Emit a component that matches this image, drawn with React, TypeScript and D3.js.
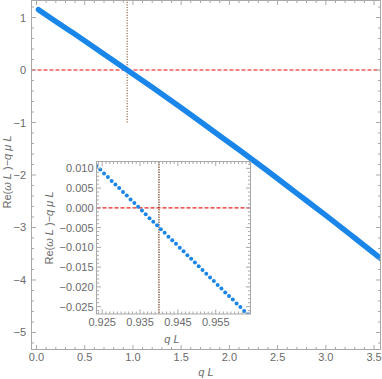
import * as d3 from 'd3';

// main curve
const mainQ = [0.02, 0.2, 0.4, 0.6, 0.8, 0.94, 1.2, 1.5, 1.8, 2.1, 2.4, 2.7, 3.0, 3.3, 3.57];
const mainRe = [1.15, 0.925, 0.68, 0.43, 0.175, 0.0, -0.33, -0.72, -1.12, -1.52, -1.93, -2.35, -2.77, -3.2, -3.59];

// inset zoom around the zero crossing
const insetQ = [
  0.9235, 0.9245, 0.9255, 0.9265, 0.9275, 0.9285, 0.9295, 0.9305, 0.9315, 0.9325,
  0.9335, 0.9345, 0.9355, 0.9365, 0.9375, 0.9385, 0.9395, 0.9405, 0.9415, 0.9425,
  0.9435, 0.9445, 0.9455, 0.9465, 0.9475, 0.9485, 0.9495, 0.9505, 0.9515, 0.9525,
  0.9535, 0.9545, 0.9555, 0.9565, 0.9575, 0.9585, 0.9595, 0.9605, 0.9615, 0.9625, 0.9635,
];
const insetRe = [
  0.0106, 0.0097, 0.0087, 0.0078, 0.0068, 0.0059, 0.005, 0.004, 0.0031, 0.0021,
  0.0012, 0.0003, -0.0007, -0.0016, -0.0026, -0.0035, -0.0044, -0.0054, -0.0063, -0.0073,
  -0.0082, -0.0091, -0.0101, -0.011, -0.012, -0.0129, -0.0138, -0.0148, -0.0157, -0.0167,
  -0.0176, -0.0185, -0.0195, -0.0204, -0.0214, -0.0223, -0.0232, -0.0242, -0.0251, -0.0261, -0.027,
];

const crossQ = 0.94;

const mainXTicks = [0, 0.5, 1, 1.5, 2, 2.5, 3, 3.5];
const mainXLabels = ['0.0', '0.5', '1.0', '1.5', '2.0', '2.5', '3.0', '3.5'];
const mainYTicks = [-5, -4, -3, -2, -1, 0, 1];
const mainYLabels = ['\u22125', '\u22124', '\u22123', '\u22122', '\u22121', '0', '1'];
const insetXTicks = [0.925, 0.935, 0.945, 0.955];
const insetXLabels = ['0.925', '0.935', '0.945', '0.955'];
const insetYTicks = [0.01, 0.005, 0, -0.005, -0.01, -0.015, -0.02, -0.025];
const insetYLabels = ['0.010', '0.005', '0.000', '\u22120.005', '\u22120.010', '\u22120.015', '\u22120.020', '\u22120.025'];

const FONT = '"Liberation Sans", Arial, sans-serif';
const FRAME = '#a8a8a8';
const LABEL = '#6a6a6a';
const BLUE = '#1a86ea';

function minorTicks(domain: number[], step: number) {
  const lo = Math.ceil(Math.min(...domain) / step - 1e-6);
  const hi = Math.floor(Math.max(...domain) / step + 1e-6);
  return d3.range(lo, hi + 1).map((i) => +(i * step).toFixed(6));
}

function Frame({ x, y, xMajor, yMajor, xStep, yStep }: any) {
  const [x0, x1] = x.range();
  const [y0, y1] = y.range();
  const xm = minorTicks(x.domain(), xStep);
  const ym = minorTicks(y.domain(), yStep);
  const isMajor = (arr: number[], v: number) => arr.some((a) => Math.abs(a - v) < 1e-7);
  return (
    <g stroke={FRAME} strokeWidth={1}>
      {xm.map((v) => {
        const len = isMajor(xMajor, v) ? 4.5 : 2.5;
        const px = x(v);
        return (
          <g key={'x' + v}>
            <line x1={px} x2={px} y1={y0} y2={y0 - len} />
            <line x1={px} x2={px} y1={y1} y2={y1 + len} />
          </g>
        );
      })}
      {ym.map((v) => {
        const len = isMajor(yMajor, v) ? 4.5 : 2.5;
        const py = y(v);
        return (
          <g key={'y' + v}>
            <line x1={x0} x2={x0 + len} y1={py} y2={py} />
            <line x1={x1} x2={x1 - len} y1={py} y2={py} />
          </g>
        );
      })}
      <rect x={x0} y={y1} width={x1 - x0} height={y0 - y1} fill="none" />
    </g>
  );
}

function ReLabel({ x, y }: { x: number; y: number }) {
  return (
    <text x={x} y={y} transform={`rotate(-90,${x},${y})`} textAnchor="middle" fontSize={11} fill={LABEL} fontFamily={FONT}>
      Re(<tspan fontStyle="italic">ω L</tspan> )−<tspan fontStyle="italic">q μ L</tspan>
    </text>
  );
}

export default function App() {
  // main panel
  const x = d3.scaleLinear().domain([-0.052, 3.567]).range([31.5, 380.5]);
  const y = d3.scaleLinear().domain([-5.324, 1.324]).range([349.5, 0.5]);
  // inset panel
  const ix = d3.scaleLinear().domain([0.9235, 0.96418]).range([96.5, 250.5]);
  const iy = d3.scaleLinear().domain([-0.02686, 0.01173]).range([314, 161.5]);

  const mainPts = mainQ.map((q, i) => [q, mainRe[i]] as [number, number]);
  const line = d3.line<[number, number]>()
    .x((d) => x(d[0]))
    .y((d) => y(d[1]))
    .curve(d3.curveMonotoneX);

  return (
    <svg width={382} height={379} style={{ position: 'absolute', left: 0, top: 0, background: '#fff' }}>
      <defs>
        <clipPath id="mainClip">
          <rect x={31.5} y={0.5} width={349} height={349} />
        </clipPath>
        <clipPath id="insetClip">
          <rect x={96.5} y={161.5} width={154} height={152.5} />
        </clipPath>
      </defs>

      {/* main panel */}
      <g clipPath="url(#mainClip)">
        <line x1={x.range()[0]} x2={x.range()[1]} y1={y(0)} y2={y(0)} stroke="#f25a5a" strokeWidth={1.3} strokeDasharray="4,2" />
        <line x1={x(crossQ)} x2={x(crossQ)} y1={y(1.4)} y2={y(-1)} stroke="#9c6a48" strokeWidth={1.2} strokeDasharray="1.2,1.4" />
        <path d={line(mainPts) || ''} fill="none" stroke={BLUE} strokeWidth={5.5} strokeLinecap="round" strokeLinejoin="round" />
      </g>
      <Frame x={x} y={y} xMajor={mainXTicks} yMajor={mainYTicks} xStep={0.1} yStep={0.2} />
      <g fontFamily={FONT} fontSize={11} fill={LABEL}>
        {mainXTicks.map((v, i) => (
          <text key={v} x={x(v)} y={361} textAnchor="middle">{mainXLabels[i]}</text>
        ))}
        {mainYTicks.map((v, i) => (
          <text key={v} x={26} y={y(v) + 4} textAnchor="end">{mainYLabels[i]}</text>
        ))}
        <text x={206} y={376} textAnchor="middle">
          <tspan fontStyle="italic">q L</tspan>
        </text>
      </g>
      <ReLabel x={11} y={172} />

      {/* inset panel */}
      <rect x={96.5} y={161.5} width={154} height={152.5} fill="#fff" />
      <g clipPath="url(#insetClip)">
        <line x1={ix.range()[0]} x2={ix.range()[1]} y1={iy(0)} y2={iy(0)} stroke="#e8231f" strokeWidth={1.2} strokeDasharray="4,2" />
        <line x1={ix(crossQ)} x2={ix(crossQ)} y1={iy.range()[1]} y2={iy.range()[0]} stroke="#6e3510" strokeWidth={1.1} strokeDasharray="1.5,1" />
        {insetQ.map((q, i) => (
          <circle key={q} cx={ix(q)} cy={iy(insetRe[i])} r={2} fill={BLUE} />
        ))}
      </g>
      <Frame x={ix} y={iy} xMajor={insetXTicks} yMajor={insetYTicks} xStep={0.001} yStep={0.001} />
      <g fontFamily={FONT} fontSize={11} fill={LABEL}>
        {insetXTicks.map((v, i) => (
          <text key={v} x={ix(v)} y={326} textAnchor="middle">{insetXLabels[i]}</text>
        ))}
        {insetYTicks.map((v, i) => (
          <text key={v} x={93.5} y={iy(v) + 4} textAnchor="end">{insetYLabels[i]}</text>
        ))}
        <text x={172} y={343} textAnchor="middle">
          <tspan fontStyle="italic">q L</tspan>
        </text>
      </g>
      <ReLabel x={53} y={228} />
    </svg>
  );
}
